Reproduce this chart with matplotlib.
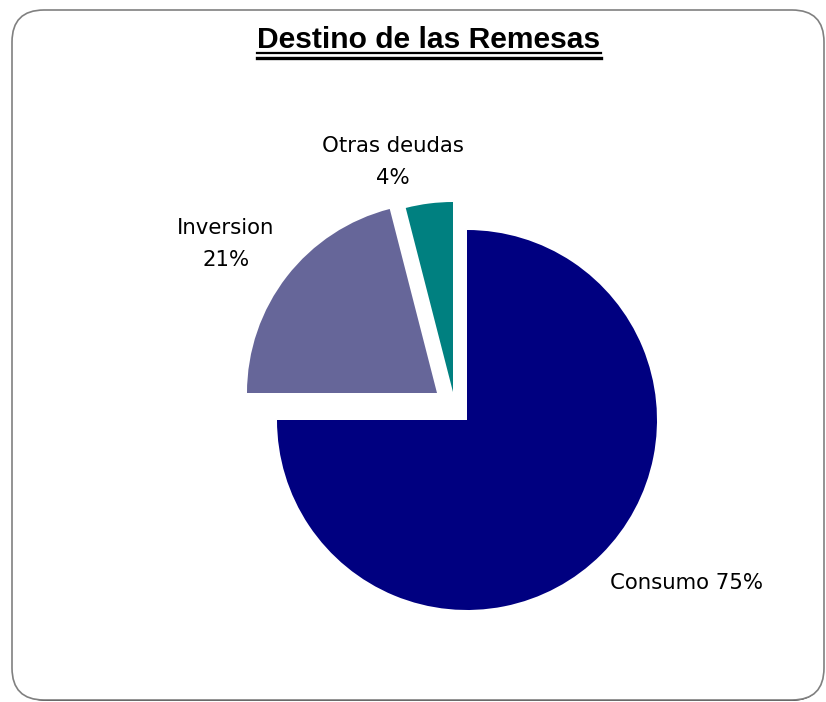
import matplotlib
matplotlib.use("Agg")
import matplotlib.pyplot as plt
from matplotlib.patches import FancyBboxPatch
from matplotlib.lines import Line2D

# data
categories = ["Consumo", "Inversion", "Otras deudas"]
shares = [75, 21, 4]
colors = ["#000080", "#666699", "#008080"]

W, H = 826, 702


def py(y):
    # pixel row (from top) -> data y
    return H - y


fig = plt.figure(figsize=(W / 100, H / 100), dpi=100)
ax = fig.add_axes([0, 0, 1, 1])

# rounded frame with a dark shadow underneath
shadow = FancyBboxPatch((15, py(701)), 808, 688,
                        boxstyle="round,pad=0,rounding_size=32",
                        fc="black", ec="none", zorder=0)
frame = FancyBboxPatch((12, py(700)), 812, 690,
                       boxstyle="round,pad=0,rounding_size=32",
                       fc="white", ec="#808080", lw=1.2, zorder=1)
ax.add_patch(shadow)
ax.add_patch(frame)

cx, cy, r = 467, py(420), 190
wedges, _ = ax.pie(shares, colors=colors, startangle=90, counterclock=False,
                   center=(cx, cy), radius=r,
                   wedgeprops=dict(linewidth=0, zorder=2))

# pulled-out slices (pixel offsets)
offsets = [(0, 0), (-30, 27), (-14, 28)]
for w, (dx, dy) in zip(wedges, offsets):
    w.set_center((cx + dx, cy + dy))
    w.set_zorder(2)

lab_font = dict(family="DejaVu Sans", fontsize=15.3, color="black", zorder=3)
ax.text(393, py(162), "%s\n%d%%" % (categories[2], shares[2]),
        ha="center", va="center", linespacing=1.8, **lab_font)
ax.text(226, py(244), "%s\n%d%%" % (categories[1], shares[1]),
        ha="center", va="center", linespacing=1.8, **lab_font)
ax.text(687, py(583), "%s %d%%" % (categories[0], shares[0]),
        ha="center", va="center", **lab_font)

title = ax.text(429, py(48), "Destino de las Remesas", ha="center",
                va="baseline", family="Liberation Sans", fontweight="bold",
                fontsize=21.6, zorder=3)

ax.set_xlim(0, W)
ax.set_ylim(0, H)
ax.set_aspect("equal")
ax.axis("off")

# double underline under the title
fig.canvas.draw()
bb = title.get_window_extent().transformed(ax.transData.inverted())
for yy, lw in [(py(53), 1.6), (py(57.5), 2.4)]:
    ax.add_line(Line2D([bb.x0, bb.x1], [yy, yy], color="black", lw=lw,
                       zorder=3))

fig.savefig("out.png", dpi=100)
